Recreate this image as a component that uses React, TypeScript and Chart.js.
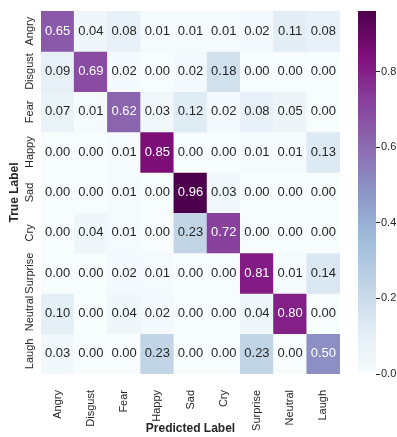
import React, { useEffect, useRef } from "react";
import { Chart, registerables } from "chart.js";

Chart.register(...registerables);

const predLabels = ["Angry", "Disgust", "Fear", "Happy", "Sad", "Cry", "Surprise", "Neutral", "Laugh"];
const trueLabels = ["Angry", "Disgust", "Fear", "Happy", "Sad", "Cry", "Surprise", "Neutral", "Laugh"];

const rowAngry = [0.65, 0.04, 0.08, 0.01, 0.01, 0.01, 0.02, 0.11, 0.08];
const rowDisgust = [0.09, 0.69, 0.02, 0.0, 0.02, 0.18, 0.0, 0.0, 0.0];
const rowFear = [0.07, 0.01, 0.62, 0.03, 0.12, 0.02, 0.08, 0.05, 0.0];
const rowHappy = [0.0, 0.0, 0.01, 0.85, 0.0, 0.0, 0.01, 0.01, 0.13];
const rowSad = [0.0, 0.0, 0.01, 0.0, 0.96, 0.03, 0.0, 0.0, 0.0];
const rowCry = [0.0, 0.04, 0.01, 0.0, 0.23, 0.72, 0.0, 0.0, 0.0];
const rowSurprise = [0.0, 0.0, 0.02, 0.01, 0.0, 0.0, 0.81, 0.01, 0.14];
const rowNeutral = [0.1, 0.0, 0.04, 0.02, 0.0, 0.0, 0.04, 0.8, 0.0];
const rowLaugh = [0.03, 0.0, 0.0, 0.23, 0.0, 0.0, 0.23, 0.0, 0.5];

const rows = [rowAngry, rowDisgust, rowFear, rowHappy, rowSad, rowCry, rowSurprise, rowNeutral, rowLaugh];

const colorbarTicks = [0, 0.2, 0.4, 0.6, 0.8];
const vMin = 0;
const vMax = 0.96;

const FONT = "'Liberation Sans', Arial, Helvetica, sans-serif";
const DARK = "#262626";

// matplotlib BuPu colormap stops
const BUPU = [
  [247, 252, 253],
  [224, 236, 244],
  [191, 211, 230],
  [158, 188, 218],
  [140, 150, 198],
  [140, 107, 177],
  [136, 65, 157],
  [129, 15, 124],
  [77, 0, 75],
];

function bupu(t: number): number[] {
  const tt = Math.max(0, Math.min(1, t)) * (BUPU.length - 1);
  const i = Math.min(BUPU.length - 2, Math.floor(tt));
  const f = tt - i;
  const a = BUPU[i];
  const b = BUPU[i + 1];
  return [0, 1, 2].map((k) => a[k] + (b[k] - a[k]) * f);
}

function rgbStr(c: number[]) {
  return `rgb(${Math.round(c[0])},${Math.round(c[1])},${Math.round(c[2])})`;
}

function luminance(c: number[]) {
  const lin = c.map((v) => {
    const x = v / 255;
    return x <= 0.03928 ? x / 12.92 : Math.pow((x + 0.055) / 1.055, 2.4);
  });
  return 0.2126 * lin[0] + 0.7152 * lin[1] + 0.0722 * lin[2];
}

function norm(v: number) {
  return (v - vMin) / (vMax - vMin);
}

export default function App() {
  const mainRef = useRef<HTMLCanvasElement | null>(null);
  const cbRef = useRef<HTMLCanvasElement | null>(null);

  useEffect(() => {
    Chart.defaults.font.family = FONT;
    Chart.defaults.color = DARK;

    const datasets = rows.map((row, r) => ({
      label: trueLabels[r],
      data: row.map(() => [r, r + 1]),
      backgroundColor: row.map((v) => rgbStr(bupu(norm(v)))),
      borderWidth: 0,
      barPercentage: 1,
      categoryPercentage: 1,
      grouped: false,
    }));

    const overlay = {
      id: "overlay",
      afterDatasetsDraw(chart: any) {
        const ctx = chart.ctx;
        ctx.save();
        ctx.font = `13px ${FONT}`;
        ctx.textAlign = "center";
        ctx.textBaseline = "middle";
        rows.forEach((row, r) => {
          const meta = chart.getDatasetMeta(r);
          meta.data.forEach((el: any, c: number) => {
            const v = row[c];
            const col = bupu(norm(v));
            ctx.fillStyle = luminance(col) > 0.408 ? DARK : "#ffffff";
            const p = el.getCenterPoint();
            ctx.fillText(v.toFixed(2), p.x, p.y);
          });
        });
        // y tick labels, rotated
        const ys = chart.scales.y;
        ctx.font = `11px ${FONT}`;
        ctx.fillStyle = DARK;
        trueLabels.forEach((lab, r) => {
          const y = ys.getPixelForValue(r + 0.5);
          ctx.save();
          ctx.translate(30, y);
          ctx.rotate(-Math.PI / 2);
          ctx.fillText(lab, 0, 0);
          ctx.restore();
        });
        ctx.restore();
      },
    };

    const main = new Chart(mainRef.current!, {
      type: "bar",
      data: { labels: predLabels, datasets: datasets as any },
      options: {
        animation: false,
        responsive: false,
        maintainAspectRatio: false,
        layout: { padding: { top: 11, right: 10, left: 0, bottom: 0 } },
        plugins: { legend: { display: false }, tooltip: { enabled: false } },
        scales: {
          x: {
            type: "category",
            offset: true,
            grid: { display: false },
            border: { display: false },
            ticks: {
              minRotation: 90,
              maxRotation: 90,
              padding: 8,
              autoSkip: false,
              color: DARK,
              font: { size: 11, family: FONT },
            },
            title: {
              display: true,
              text: "Predicted Label",
              color: DARK,
              font: { size: 12, weight: "bold", family: FONT },
              padding: { top: 0, bottom: 1 },
            },
            afterFit: (s: any) => {
              s.height = 63;
            },
          },
          y: {
            type: "linear",
            min: 0,
            max: 9,
            reverse: true,
            grid: { display: false },
            border: { display: false },
            ticks: { display: false },
            title: {
              display: true,
              text: "True Label",
              color: DARK,
              font: { size: 12, weight: "bold", family: FONT },
              padding: { top: 7, bottom: 0 },
            },
            afterFit: (s: any) => {
              s.width = 41;
            },
          },
        },
      } as any,
      plugins: [overlay],
    });

    const cb = new Chart(cbRef.current!, {
      type: "bar",
      data: {
        labels: [""],
        datasets: [
          {
            data: [[vMin, vMax]] as any,
            backgroundColor: (ctx: any) => {
              const area = ctx.chart.chartArea;
              if (!area) return rgbStr(bupu(0.5));
              const g = ctx.chart.ctx.createLinearGradient(0, area.bottom, 0, area.top);
              BUPU.forEach((c, i) => g.addColorStop(i / (BUPU.length - 1), rgbStr(c)));
              return g;
            },
            borderWidth: 0,
            barPercentage: 1,
            categoryPercentage: 1,
          },
        ],
      },
      options: {
        animation: false,
        responsive: false,
        maintainAspectRatio: false,
        layout: { padding: { top: 11, right: 0, left: 8, bottom: 63 } },
        plugins: { legend: { display: false }, tooltip: { enabled: false } },
        scales: {
          x: { type: "category", display: false, offset: true },
          y: {
            type: "linear",
            position: "right",
            min: vMin,
            max: vMax,
            grid: { display: true, drawOnChartArea: false, drawTicks: true, tickLength: 4, color: DARK },
            border: { display: false },
            ticks: {
              padding: 1,
              color: DARK,
              font: { size: 11, family: FONT },
              callback: (v: any) => Number(v).toFixed(1),
            },
            afterBuildTicks: (s: any) => {
              s.ticks = colorbarTicks.map((v) => ({ value: v }));
            },
            afterFit: (s: any) => {
              s.width = 21;
            },
          },
        },
      } as any,
    });

    return () => {
      main.destroy();
      cb.destroy();
    };
  }, []);

  return (
    <div style={{ position: "absolute", left: 0, top: 0, width: 397, height: 437, background: "#ffffff" }}>
      <canvas
        ref={mainRef}
        width={350}
        height={437}
        style={{ position: "absolute", left: 0, top: 0, width: 350, height: 437 }}
      />
      <canvas
        ref={cbRef}
        width={47}
        height={437}
        style={{ position: "absolute", left: 350, top: 0, width: 47, height: 437 }}
      />
    </div>
  );
}
